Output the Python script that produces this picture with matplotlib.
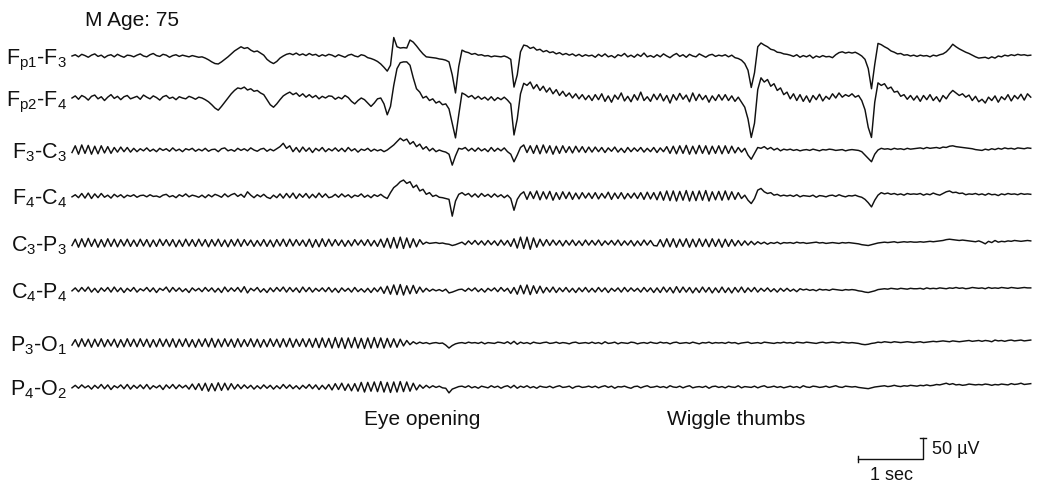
import numpy as np
import matplotlib.pyplot as plt

plt.rcParams['font.family'] = ['Liberation Sans', 'DejaVu Sans']
plt.rcParams['mathtext.default'] = 'regular'

FS = 20  # samples per second (about one every 3 px)

labels = ['F$_{p1}$-F$_{3}$', 'F$_{p2}$-F$_{4}$', 'F$_{3}$-C$_{3}$', 'F$_{4}$-C$_{4}$',
          'C$_{3}$-P$_{3}$', 'C$_{4}$-P$_{4}$', 'P$_{3}$-O$_{1}$', 'P$_{4}$-O$_{2}$']

# values in microvolts, one line per second
fp1_f3 = [
    0, 3, -2, 4, 1, -3, 2, 5, -1, 2, -4, 1, 3, -2, 4, 0, -3, 2, 1, -2,
    2, 5, 0, -2, 3, 6, 1, -1, 4, 2, -3, 1, 3, -1, 2, 0, -2, 1, -1, -3,
    -2, -5, -9, -14, -18, -19, -14, -8, -2, 5, 12, 17, 22, 18, 20, 14, 10, 12, 7, 2,
    -8, -14, -18, -13, -5, 0, 4, 6, 3, 7, 2, 5, 1, 6, 2, 4, -1, 3, 0, 4,
    2, -2, 3, 0, -3, 2, 4, 0, -2, 3, 1, -4, -6, -9, -13, -19, -27, -36, -22, 44,
    22, 19, 20, 19, 38, 33, 24, 14, 5, -2, -3, -4, -5, -7, -8, -10, -14, -45, -88, -25,
    14, 10, 8, 4, 6, 2, 3, 0, 1, -2, 0, -1, -2, 0, -3, -8, -74, -45, 10, 26,
    24, 18, 21, 14, 16, 10, 13, 8, 10, 5, 8, 3, 6, 2, 5, 0, 4, -1, 3, 0,
    2, -3, 4, -1, 5, -2, 1, -4, 3, 0, 6, -2, 2, -3, 4, -1, 7, -2, 1, -3,
    3, -2, 5, 0, -4, 2, 6, -1, 3, -3, 4, 0, -2, 5, 1, -3, 2, 4, -1, 2,
    0, 3, -2, 2, -4, -6, -10, -18, -34, -75, -40, 22, 31, 26, 22, 16, 14, 9, 8, 5,
    4, 2, -1, 3, -3, 1, -2, 2, -5, 0, -3, 1, -2, -1, -4, 3, 8, 10, 7, 9,
    7, 9, 5, 0, -8, -30, -78, -20, 30, 27, 22, 18, 12, 9, 5, 6, 2, 3, 0, 2,
    -1, 2, 0, 1, -2, 2, 0, 3, 5, 10, 18, 28, 22, 17, 13, 9, 6, 2, -2, -5,
    -4, -3, -6, -2, -5, 0, -2, 2, 0, 3, 1, 4, 2, 3, 1, 2,
]
fp2_f4 = [
    0, 5, -3, 6, 2, -5, 4, 7, -2, 3, -6, 2, 8, -1, 4, -4, 3, 6, -2, 1,
    4, -3, 7, 2, -2, 5, 1, -5, 3, 6, -1, 2, -4, 3, 0, -2, 4, 1, -3, 2,
    0, -4, -9, -16, -24, -29, -20, -10, 0, 10, 18, 24, 22, 26, 19, 22, 16, 18, 12, 8,
    -4, -16, -22, -14, -4, 5, 10, 14, 8, 12, 4, 10, 2, 8, 1, 6, -2, 4, 0, 5,
    4, -3, 2, -2, 6, 1, -8, -14, -6, 0, -4, -12, -20, -12, -2, 0, -14, -40, -20, 30,
    70, 84, 86, 86, 78, 48, 22, 14, 0, 4, -6, -2, -12, -8, -16, -14, -26, -60, -95, -40,
    12, 8, 2, 6, -2, 4, -3, 2, -5, 3, -6, 1, -4, 2, -5, -14, -88, -50, 10, 35,
    30, 38, 22, 32, 18, 28, 14, 24, 10, 20, 6, 16, 4, 12, 0, 10, -2, 8, -4, 6,
    -6, 8, -4, 10, -8, 5, -10, 7, -3, 12, -7, 4, -9, 8, -5, 14, -6, 3, -8, 9,
    -4, 10, -7, 6, -12, 8, -5, 11, -3, 7, -9, 12, -6, 9, -4, 6, -10, 5, -6, 8,
    -5, 8, -6, 5, -8, 2, -10, -22, -50, -94, -60, 20, 48, 38, 44, 28, 34, 18, 24, 8,
    14, -2, 10, -6, 8, -8, 5, -10, 6, -4, 9, -7, 4, -3, 10, 0, 12, 2, 8, 4,
    10, 2, 6, -6, -28, -70, -94, -10, 36, 30, 34, 22, 26, 14, 16, 4, 8, -3, 6, -5,
    5, -8, 6, -4, 8, -6, 3, -9, 6, -2, 10, 18, 12, 6, 10, 2, 7, -6, 4, -9,
    -3, -12, 2, -6, 5, -10, 3, -4, 8, -7, 6, -2, 9, -5, 10, 2,
]
f3_c3 = [
    -6, 10, -10, 12, -8, 11, -10, 9, -9, 10, -7, 8, -8, 6, -5, 7, -4, 6, -5, 4,
    -4, 3, -2, 5, -3, 2, -4, 4, -1, 3, -3, 5, -2, 2, -4, 3, 0, 4, -3, 2,
    -2, 4, -3, 1, 2, -4, 3, 5, -2, 1, -3, 4, -1, 3, -2, 5, 0, -3, 2, 4,
    -3, 2, -2, 3, 8, 16, 4, 10, -4, 6, -5, 7, -3, 5, -6, 4, -2, 6, -4, 3,
    -2, 5, -3, 4, -4, 6, -2, 3, -5, 2, -1, 4, -3, 2, -2, 1, -4, 0, 6, 12,
    20, 28, 22, 26, 14, 20, 8, 14, 2, 8, -2, 4, -4, 0, -3, -5, -10, -36, -14, 4,
    2, 6, -2, 4, -3, 5, -2, 3, -4, 6, -3, 4, -2, 5, -4, -10, -28, -12, 6, 12,
    -6, 10, -8, 11, -9, 12, -7, 10, -10, 9, -8, 10, -6, 8, -7, 9, -5, 8, -6, 7,
    -5, 7, -4, 6, -6, 5, -3, 7, -5, 4, -6, 6, -4, 5, -3, 6, -5, 4, -4, 6,
    -6, 5, -4, 8, -8, 9, -9, 10, -8, 11, -10, 9, -9, 11, -8, 10, -10, 9, -8, 10,
    -9, 10, -8, 9, -7, 6, -5, 4, -12, -22, -8, 6, 4, 8, 2, 6, 0, 4, -2, 2,
    0, 2, -1, 1, -2, 0, 1, -1, 2, 0, -2, 1, 0, 2, 1, -1, 0, 1, -2, 0,
    1, 0, -1, -4, -12, -20, -28, -10, 0, 4, 2, 3, 1, 4, 2, 3, 1, 4, 2, 3,
    4, 5, 3, 6, 4, 5, 6, 4, 7, 6, 9, 10, 8, 7, 6, 5, 4, 3, 1, 0,
    -1, 2, 0, 3, 1, 4, 2, 5, 3, 4, 2, 5, 4, 3, 5, 4,
]
f4_c4 = [
    -2, 3, -4, 6, -5, 7, -6, 5, -4, 6, -3, 2, -5, 4, -2, 3, -4, 2, -1, 3,
    -3, 1, 2, -2, 3, -1, 0, -3, 2, 4, -2, 1, -4, 3, -1, 5, -2, 2, 0, -3,
    2, -4, 3, -2, 4, 1, -3, 5, -2, 3, 6, -1, 4, -3, 10, 2, -4, 3, -2, 4,
    -3, -6, 2, -4, 5, -5, 6, -4, 7, -6, 5, -3, 6, -5, 4, -4, 7, -3, 5, -4,
    -2, 4, -3, 5, -2, 3, -4, 2, -1, 5, -3, 2, -4, 3, -1, 4, -2, -6, 8, 20,
    26, 34, 38, 30, 34, 20, 26, 12, 16, 4, 8, -1, 2, -3, -4, -6, -8, -48, -12, 4,
    8, 2, 6, -2, 5, -3, 6, -1, 4, -3, 5, -2, 3, -4, 2, -6, -34, -8, 4, 10,
    -8, 10, -6, 12, -9, 10, -7, 11, -10, 8, -8, 10, -6, 9, -8, 7, -7, 8, -5, 7,
    -6, 8, -7, 6, -5, 9, -8, 7, -6, 8, -7, 6, -5, 7, -6, 8, -8, 9, -7, 8,
    -9, 10, -10, 12, -11, 12, -12, 11, -10, 13, -12, 11, -11, 12, -10, 13, -12, 10, -9, 11,
    -10, 12, -9, 10, -8, 8, -6, 2, -10, -18, -6, 14, 18, 10, 6, 8, 2, 4, 0, 2,
    0, 2, -1, 3, -2, 1, 0, -1, 2, -3, 1, 0, -2, 1, 2, -1, 3, 0, -2, 1,
    0, 2, -1, -3, -8, -16, -26, -10, 2, 8, 5, 7, 4, 6, 3, 5, 2, 6, 4, 5,
    4, 6, 2, 5, 3, 7, 4, 2, 6, 10, 12, 8, 9, 6, 7, 3, 5, 4, 6, 3,
    5, 2, 6, 3, 4, 1, 5, 3, 6, 4, 5, 3, 6, 4, 5, 4,
]
c3_p3 = [
    -6, 9, -10, 10, -9, 11, -8, 9, -10, 8, -9, 10, -8, 9, -9, 8, -7, 9, -8, 7,
    -8, 9, -7, 8, -9, 7, -8, 9, -6, 8, -7, 8, -9, 7, -8, 9, -7, 8, -8, 9,
    -7, 8, -9, 8, -7, 9, -8, 7, -9, 8, -7, 9, -8, 8, -6, 7, -8, 6, -7, 8,
    -8, 7, -9, 8, -7, 9, -8, 9, -7, 8, -6, 7, -8, 9, -10, 8, -9, 10, -8, 9,
    -7, 8, -6, 7, -8, 6, -7, 8, -5, 7, -6, 8, -7, 6, -8, 9, -10, 11, -12, 13,
    -12, 14, -13, 12, -11, 10, -9, 8, -3, 2, -1, 0, 1, -1, 0, -2, -3, -6, -4, -1,
    2, -4, 5, -3, 6, -4, 5, -5, 6, -4, 5, -6, 7, -5, 6, -8, 10, -12, 14, -13,
    14, -15, 12, -10, 9, -7, 8, -6, 7, -5, 6, -7, 6, -5, 7, -6, 5, -6, 7, -5,
    6, -5, 7, -6, 5, -4, 6, -5, 7, -6, 5, -5, 6, -7, 5, -6, 7, -5, 6, -6,
    -7, 8, -9, 10, -9, 10, -10, 9, -8, 10, -10, 9, -9, 10, -8, 9, -9, 10, -8, 9,
    -10, 9, -8, 8, -7, 6, -6, 5, -5, 4, -4, 3, -2, 2, -3, 1, -1, 2, -2, 1,
    0, 1, -1, 2, 0, 1, -1, 0, 1, 2, 0, 1, -1, 0, 1, 0, -1, 1, 0, 1,
    0, -1, -2, -4, -5, -6, -4, -2, 0, 1, 2, 1, 2, 3, 1, 2, 3, 2, 3, 2,
    2, 3, 2, 3, 4, 3, 4, 5, 6, 8, 9, 8, 7, 6, 7, 6, 5, 4, 3, 5,
    2, -2, 4, 1, 6, 2, 4, 3, 5, 4, 6, 5, 4, 5, 6, 5,
]
c4_p4 = [
    -2, 5, -4, 6, -3, 7, -5, 4, -6, 5, -3, 6, -5, 7, -4, 5, -6, 4, -3, 6,
    -5, 3, -2, 6, -4, 5, -6, 4, -1, 7, -5, 6, -3, 5, -4, 3, -6, 5, -2, 4,
    -4, 6, -3, 5, -5, 4, -6, 7, -4, 5, -3, 6, -5, 8, -7, 4, -2, 6, -5, 3,
    -6, 5, -4, 6, -3, 7, -5, 6, -4, 5, -6, 7, -4, 6, -5, 4, -3, 5, -4, 6,
    -5, 4, -6, 5, -3, 4, -5, 6, -4, 3, -5, 4, -6, 5, -4, 7, -8, 9, -10, 12,
    -11, 13, -12, 10, -9, 11, -8, 7, -5, 4, -3, 2, -2, 1, -3, 2, -7, -5, -2, 1,
    2, -3, 4, -2, 5, -4, 3, -5, 4, -2, 5, -4, 6, -3, 4, -8, 6, -10, 11, -9,
    12, -11, 10, -8, 9, -7, 6, -5, 7, -6, 5, -4, 6, -5, 4, -6, 5, -4, 6, -5,
    4, -5, 6, -4, 5, -6, 4, -3, 5, -5, 6, -4, 5, -3, 4, -5, 6, -4, 5, -6,
    5, -6, 7, -5, 6, -7, 8, -6, 7, -5, 6, -7, 5, -6, 7, -5, 6, -7, 5, -6,
    7, -6, 5, -7, 6, -5, 7, -6, 5, -4, 6, -5, 4, -3, 5, -4, 3, -5, 4, -3,
    4, -3, 2, -4, 3, 0, 2, -1, 1, -2, 2, 0, 1, -1, 2, 1, 0, -1, 1, 0,
    1, 0, -2, -3, -5, -6, -4, -2, 1, 2, 3, 2, 4, 3, 2, 4, 3, 2, 4, 3,
    3, 4, 2, 5, 3, 4, 3, 5, 4, 3, 5, 4, 6, 4, 5, 3, 4, 6, 5, 4,
    5, 3, 6, 4, 5, 4, 6, 5, 4, 6, 5, 4, 5, 6, 5, 5,
]
p3_o1 = [
    -5, 8, -9, 10, -8, 9, -10, 9, -8, 10, -9, 8, -7, 9, -10, 8, -9, 10, -8, 9,
    -9, 10, -8, 9, -10, 8, -9, 10, -8, 9, -9, 10, -10, 9, -8, 10, -9, 8, -10, 9,
    -8, 10, -9, 11, -10, 9, -9, 10, -8, 9, -10, 10, -9, 8, -8, 10, -9, 9, -10, 8,
    -9, 10, -8, 9, -10, 10, -9, 11, -10, 9, -8, 10, -9, 10, -10, 11, -11, 12, -10, 11,
    -12, 13, -11, 12, -13, 12, -11, 13, -12, 11, -13, 12, -12, 13, -11, 12, -12, 11, -10, 10,
    -10, 9, -7, 6, -4, 3, -2, 2, -1, 1, -2, 0, 1, -1, 0, -5, -12, -6, -2, 0,
    1, -1, 2, 0, 1, -1, 2, -2, 1, 0, -1, 2, 1, -1, 3, -2, 4, -3, 2, -1,
    1, -2, 2, 0, -1, 1, 2, -1, 0, 2, -1, 1, 0, -2, 1, 2, -1, 0, 1, -1,
    2, -1, 1, -2, 3, -1, 0, 2, -2, 1, 0, -1, 2, 1, -2, 0, 1, -1, 2, 0,
    -1, 2, 0, 1, -2, 1, 2, -1, 0, 1, -1, 2, 0, -2, 1, 0, 2, -1, 1, 0,
    1, -1, 2, 0, 1, -2, 0, 1, 2, -1, 0, 1, -1, 2, 1, 0, -1, 1, 0, 2,
    0, 1, -1, 2, 1, 0, 2, 1, 0, -1, 1, 2, 0, 1, 2, 1, 0, 2, 1, 0,
    1, 0, -1, -3, -4, -3, -1, 0, 2, 1, 3, 2, 1, 3, 2, 1, 2, 3, 2, 1,
    2, 3, 1, 2, 3, 4, 3, 4, 5, 4, 3, 5, 4, 3, 4, 5, 6, 4, 5, 6,
    4, 6, 5, 3, 7, 5, 6, 4, 6, 7, 5, 6, 7, 5, 6, 7,
]
p4_o2 = [
    -2, 4, -3, 5, -2, 3, -5, 4, -3, 6, -4, 5, -6, 3, -2, 5, -4, 6, -5, 4,
    -3, 5, -4, 6, -5, 3, -2, 4, -6, 5, -3, 6, -4, 5, -2, 4, -5, 7, -6, 8,
    -8, 9, -10, 8, -9, 10, -8, 9, -7, 8, -5, 6, -4, 5, -3, 4, -5, 3, -4, 5,
    -3, 4, -5, 3, -4, 6, -3, 5, -4, 3, -5, 4, -3, 6, -4, 5, -6, 4, -5, 6,
    -7, 8, -6, 9, -8, 7, -9, 8, -10, 11, -12, 11, -10, 12, -11, 13, -12, 11, -13, 12,
    -12, 13, -11, 12, -10, 9, -7, 5, -3, 4, -2, 3, -1, 2, -2, -3, -14, -5, -2, 1,
    2, -1, 3, -2, 1, -3, 2, 0, -2, 3, -1, 2, -3, 1, 3, -2, 4, -3, 2, -1,
    3, -2, 1, -3, 2, 0, -1, 2, -2, 1, 3, -1, 0, 2, -3, 1, 2, -1, 0, 2,
    -1, 2, -2, 1, 3, -1, 2, -3, 1, 0, 2, -1, -3, 1, 2, -2, 1, 3, -1, 0,
    2, -1, 1, -2, 3, 0, -1, 2, -2, 1, 3, -2, 0, 1, -1, 2, -3, 1, 2, -1,
    1, -2, 2, 0, -1, 3, -2, 1, 0, -1, 2, -2, 1, 3, -1, 0, 2, -1, 1, -2,
    0, 2, -1, 1, -2, 3, 0, -1, 2, 1, -1, 0, 2, -1, 1, 3, 0, -1, 2, 1,
    0, 1, -1, -2, -3, -4, -2, 0, 1, 2, 3, 1, 2, 4, 2, 1, 3, 2, 4, 3,
    2, 4, 3, 5, 3, 4, 6, 5, 7, 9, 6, 8, 5, 6, 4, 5, 7, 6, 5, 6,
    5, 7, 6, 4, 6, 5, 7, 6, 5, 8, 6, 7, 9, 6, 7, 8,
]

channels = [fp1_f3, fp2_f4, f3_c3, f4_c4, c3_p3, c4_p4, p3_o1, p4_o2]
rows = [56, 98, 150, 196, 243, 290, 343, 387]  # pixel row of each baseline

PX_PER_SEC = 65
UV_PER_PX = 50 / 21
X0 = 72  # pixel where the traces start


def px(x, y):
    return (x - X0) / PX_PER_SEC, -y * UV_PER_PX


fig = plt.figure(figsize=(10.39, 4.84), dpi=100)
ax = fig.add_axes([0, 0, 1, 1])
ax.set_xlim(px(0, 0)[0], px(1039, 0)[0])
ax.set_ylim(px(0, 484)[1], 0)
ax.axis('off')

ink = '#111111'
for label, vals, row in zip(labels, channels, rows):
    t = np.arange(len(vals)) / FS
    base = px(0, row)[1]
    ax.plot(t, base + np.array(vals), color=ink, lw=1.05, solid_joinstyle='round')
    ax.text(*px(67, row + 8), label, ha='right', va='baseline', fontsize=15.5, color=ink)

ax.text(*px(85, 26), 'M Age: 75', va='baseline', fontsize=15, color=ink)
ax.text(*px(364, 425), 'Eye opening', va='baseline', fontsize=15, color=ink)
ax.text(*px(667, 425), 'Wiggle thumbs', va='baseline', fontsize=15, color=ink)

# scale bar: 1 sec, 50 uV
sx, sy = px(858, 459)
dx, dy = 3 / PX_PER_SEC, 3 * UV_PER_PX
ax.plot([sx, sx + 1, sx + 1], [sy, sy, sy + 50], color=ink, lw=1.0)
ax.plot([sx, sx], [sy - dy, sy + dy], color=ink, lw=1.0)
ax.plot([sx + 1 - dx, sx + 1 + dx], [sy + 50, sy + 50], color=ink, lw=1.0)
ax.text(*px(932, 449), '50 µV', va='center', fontsize=13, color=ink)
ax.text(*px(891, 476), '1 sec', ha='center', va='center', fontsize=13, color=ink)

fig.savefig('out.png', dpi=100)
